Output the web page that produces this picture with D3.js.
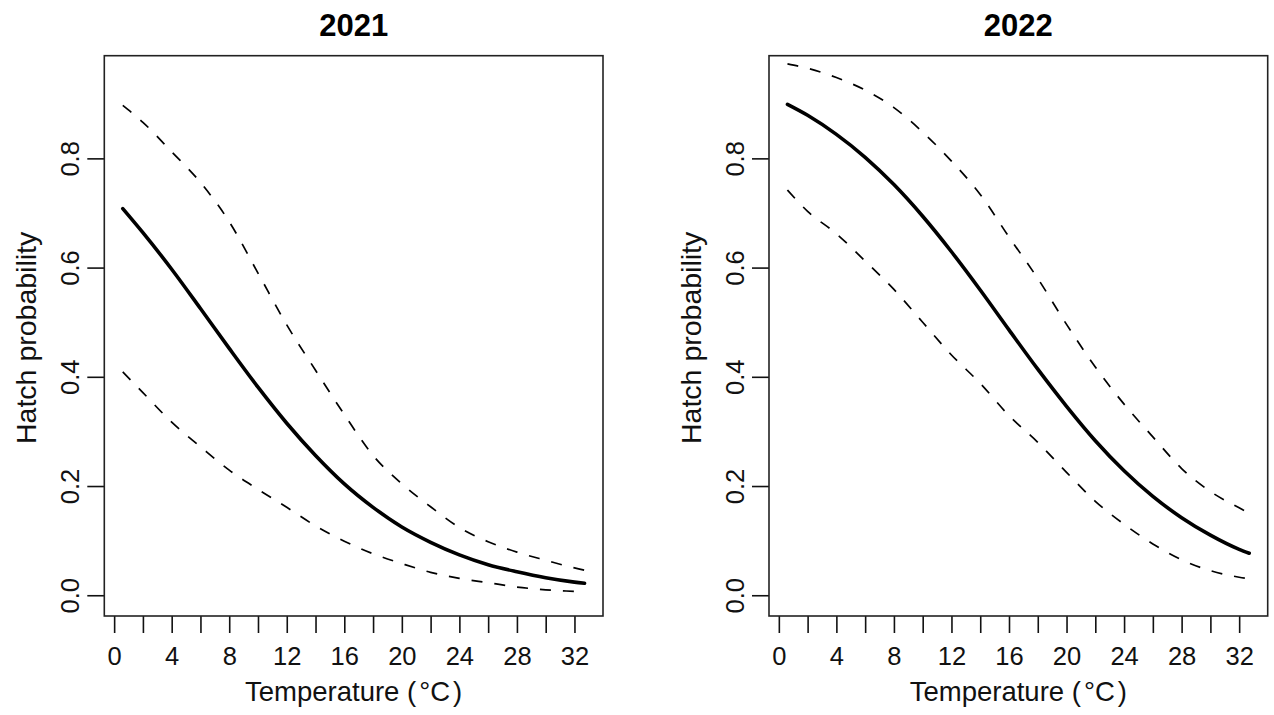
<!DOCTYPE html>
<html>
<head>
<meta charset="utf-8">
<script src="https://cdn.jsdelivr.net/npm/d3@7"></script>
<style>
  html, body { margin: 0; padding: 0; background: #fff; }
  svg { display: block; font-family: "Liberation Sans", Arial, Helvetica, sans-serif; }
</style>
</head>
<body>
<svg id="chart" width="1274" height="715"></svg>
<script>
// Temperature grid (°C) at which the fitted curves are evaluated
const temps = [0.6, 2, 4, 6, 8, 10, 12, 14, 16, 18, 20, 22, 24, 26, 28, 30, 32, 32.7];

// 2021: fitted hatch probability and its lower / upper interval
const fit2021   = [0.708, 0.664, 0.597, 0.525, 0.452, 0.381, 0.315, 0.256, 0.204, 0.161, 0.125, 0.097, 0.074, 0.056, 0.043, 0.032, 0.024, 0.022];
const lower2021 = [0.409, 0.371, 0.317, 0.272, 0.229, 0.194, 0.161, 0.127, 0.099, 0.076, 0.058, 0.042, 0.031, 0.023, 0.015, 0.010, 0.007, 0.006];
const upper2021 = [0.897, 0.866, 0.812, 0.756, 0.684, 0.590, 0.495, 0.412, 0.331, 0.256, 0.204, 0.162, 0.124, 0.098, 0.079, 0.064, 0.050, 0.046];

// 2022: fitted hatch probability and its lower / upper interval
const fit2022   = [0.899, 0.879, 0.844, 0.802, 0.752, 0.694, 0.629, 0.559, 0.486, 0.414, 0.346, 0.283, 0.228, 0.181, 0.142, 0.110, 0.084, 0.077];
const lower2022 = [0.742, 0.703, 0.662, 0.612, 0.560, 0.500, 0.440, 0.388, 0.329, 0.280, 0.225, 0.172, 0.130, 0.094, 0.065, 0.045, 0.033, 0.030];
const upper2022 = [0.973, 0.965, 0.948, 0.925, 0.893, 0.848, 0.795, 0.734, 0.656, 0.580, 0.496, 0.418, 0.350, 0.290, 0.232, 0.190, 0.160, 0.150];

// Axis ticks
const xTicks = [0, 2, 4, 6, 8, 10, 12, 14, 16, 18, 20, 22, 24, 26, 28, 30, 32];
const xLabelled = [0, 4, 8, 12, 16, 20, 24, 28, 32];
const yTicks = [0, 0.2, 0.4, 0.6, 0.8];
const yLimits = [0, 0.95];

const panels = [
  { title: "2021", fit: fit2021, lower: lower2021, upper: upper2021, left: 104.3 },
  { title: "2022", fit: fit2022, lower: lower2022, upper: upper2022, left: 769 }
];

const svg = d3.select("#chart");
const plotW = 498.7, plotTop = 55.7, plotBottom = 616;

// Base-graphics style 4% padding around the data range
function padded([a, b]) { const p = (b - a) * 0.04; return [a - p, b + p]; }
const xDomain = padded(d3.extent(temps));
const yDomain = padded(yLimits);

panels.forEach(p => {
  const x = d3.scaleLinear().domain(xDomain).range([p.left, p.left + plotW]);
  const y = d3.scaleLinear().domain(yDomain).range([plotBottom, plotTop]);
  const g = svg.append("g");

  // x axis
  const xa = g.append("g")
    .attr("transform", `translate(0,${plotBottom})`)
    .call(d3.axisBottom(x).tickValues(xTicks).tickSize(17)
      .tickFormat(d => xLabelled.includes(d) ? d3.format("d")(d) : ""));
  xa.select(".domain").remove();
  xa.selectAll(".tick line").attr("stroke", "#111").attr("stroke-width", 1.6);
  xa.selectAll(".tick text")
    .attr("y", 49).attr("dy", null)
    .attr("fill", "#111").attr("font-size", 25.5).attr("font-family", null);

  // y axis with rotated labels
  const ya = g.append("g")
    .attr("transform", `translate(${p.left},0)`)
    .call(d3.axisLeft(y).tickValues(yTicks).tickSize(17).tickFormat(d3.format(".1f")));
  ya.select(".domain").remove();
  ya.selectAll(".tick line").attr("stroke", "#111").attr("stroke-width", 1.6);
  ya.selectAll(".tick text")
    .attr("x", 0).attr("y", -25).attr("dy", null)
    .attr("transform", "rotate(-90)")
    .attr("text-anchor", "middle")
    .attr("fill", "#111").attr("font-size", 25.5).attr("font-family", null);

  // frame
  g.append("rect")
    .attr("x", p.left).attr("y", plotTop)
    .attr("width", plotW).attr("height", plotBottom - plotTop)
    .attr("fill", "none").attr("stroke", "#222").attr("stroke-width", 1.6);

  const line = d3.line()
    .x((d, i) => x(temps[i]))
    .y(d => y(d))
    .curve(d3.curveMonotoneX);

  [p.lower, p.upper].forEach(s => {
    g.append("path").attr("d", line(s))
      .attr("fill", "none").attr("stroke", "#000")
      .attr("stroke-width", 1.7).attr("stroke-dasharray", "11,12");
  });
  g.append("path").attr("d", line(p.fit))
    .attr("fill", "none").attr("stroke", "#000")
    .attr("stroke-width", 3.6).attr("stroke-linecap", "round");

  // title
  g.append("text")
    .attr("x", p.left + plotW / 2).attr("y", 36)
    .attr("text-anchor", "middle")
    .attr("font-size", 31).attr("font-weight", "bold")
    .text(p.title);

  // x label
  const xl = g.append("text")
    .attr("x", p.left + plotW / 2).attr("y", 701)
    .attr("text-anchor", "middle")
    .attr("font-size", 27.5).attr("fill", "#111");
  xl.append("tspan").text("Temperature (");
  xl.append("tspan").attr("dx", 3).text("°C");
  xl.append("tspan").attr("dx", 3).text(")");

  // y label
  g.append("text")
    .attr("transform", `translate(${p.left - 68},${(plotTop + plotBottom) / 2 + 2}) rotate(-90)`)
    .attr("text-anchor", "middle")
    .attr("font-size", 28.5).attr("fill", "#111")
    .text("Hatch probability");
});
</script>
</body>
</html>
